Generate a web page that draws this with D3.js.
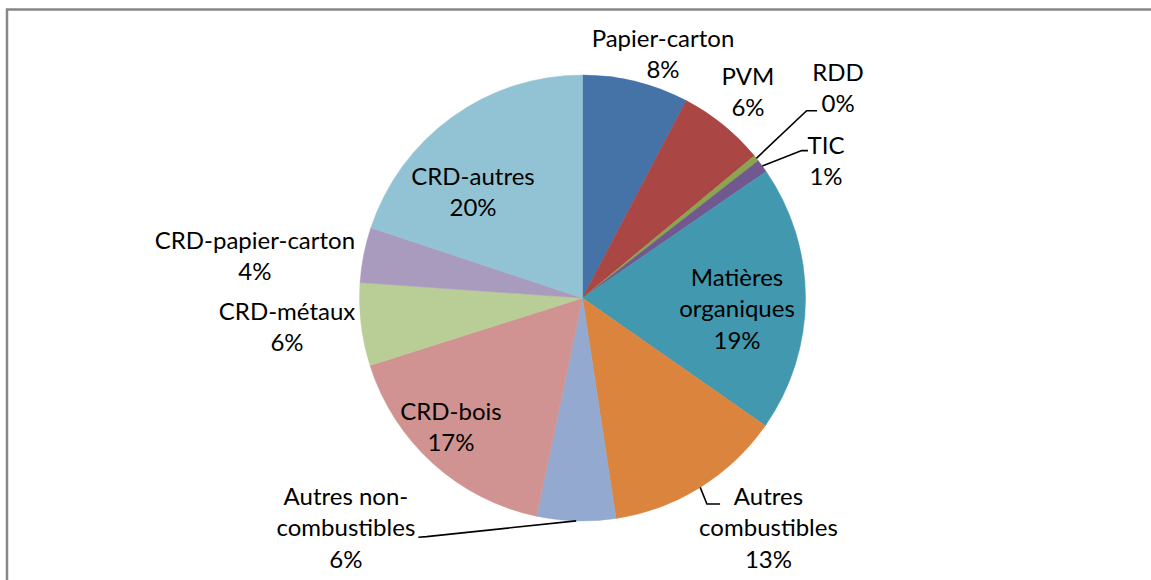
<!DOCTYPE html>
<html>
<head>
<meta charset="utf-8">
<script src="https://cdn.jsdelivr.net/npm/d3@7"></script>
<style>
  html, body { margin: 0; padding: 0; background: #fff; }
  svg { display: block; }
  text { font-family: Lato, "Open Sans", sans-serif; fill: #000; }
</style>
</head>
<body>
<svg id="chart" width="1151" height="580"></svg>
<script>
// ---- data ----
const categories = [
  "Papier-carton", "PVM", "RDD", "TIC", "Matières organiques",
  "Autres combustibles", "Autres non-combustibles", "CRD-bois",
  "CRD-métaux", "CRD-papier-carton", "CRD-autres"
];
const values = [7.7, 6.3, 0.45, 0.95, 19.3, 12.9, 5.7, 16.8, 6.0, 4.0, 19.9];
const labelLines = [
  ["Papier-carton"], ["PVM"], ["RDD"], ["TIC"], ["Matières", "organiques"],
  ["Autres", "combustibles"], ["Autres non-", "combustibles"], ["CRD-bois"],
  ["CRD-métaux"], ["CRD-papier-carton"], ["CRD-autres"]
];
const colors = [
  "#4572A7", "#AA4643", "#89A54E", "#71588F", "#4198AF",
  "#DB843D", "#93A9CF", "#D19392", "#B9CD96", "#A99BBD", "#92C3D4"
];

// ---- layout (label placement in units of pie radius, relative to centre) ----
const labelPos = [
  [0.361, -1.166], [0.742, -0.996], [1.146, -1.013], [1.092, -0.686],
  [0.693, -0.094], [0.834, 0.888], [-1.061, 0.888], [-0.590, 0.507],
  [-1.325, 0.058], [-1.469, -0.260], [-0.491, -0.547]
];
const leaders = {
  2: [[1.005, -0.840], [1.052, -0.840]],
  3: [[0.983, -0.661], [1.011, -0.661]],
  5: [[0.558, 0.924], [0.617, 0.924]],
  6: [[-0.699, 1.070], [-0.736, 1.073]]
};

const W = 1151, H = 580;
const cx = 582.5, cy = 298, R = 223;
const fontSize = 24, lineH = 31.5;

const svg = d3.select("#chart");

// frame
svg.append("rect")
  .attr("x", 7).attr("y", 9.5)
  .attr("width", 1300).attr("height", 800)
  .attr("fill", "#fff")
  .attr("stroke", "#878787").attr("stroke-width", 2.5);

const total = d3.sum(values);
const pie = d3.pie().sort(null).value(d => d)(values);
const arc = d3.arc().innerRadius(0).outerRadius(R);
const edge = d3.arc().innerRadius(R).outerRadius(R);

const g = svg.append("g").attr("transform", `translate(${cx},${cy})`);

g.selectAll("path.slice")
  .data(pie)
  .join("path")
  .attr("class", "slice")
  .attr("d", arc)
  .attr("fill", (d, i) => colors[i])
  .attr("stroke", (d, i) => colors[i])
  .attr("stroke-width", 0.5);

// leader lines
Object.keys(leaders).forEach(k => {
  const i = +k;
  const start = edge.centroid(pie[i]);
  const pts = [start].concat(leaders[i].map(p => [p[0] * R, p[1] * R]));
  g.append("path")
    .attr("d", d3.line()(pts))
    .attr("fill", "none")
    .attr("stroke", "#000")
    .attr("stroke-width", 1.6);
});

// labels
pie.forEach((d, i) => {
  const pct = Math.round(values[i] / total * 100) + "%";
  const lines = labelLines[i].concat([pct]);
  const [lx, ly] = labelPos[i];
  const t = g.append("text")
    .attr("text-anchor", "middle")
    .attr("font-size", fontSize);
  lines.forEach((s, j) => {
    t.append("tspan")
      .attr("x", lx * R)
      .attr("y", ly * R + j * lineH)
      .attr("dy", "0.36em")
      .text(s);
  });
});
</script>
</body>
</html>
